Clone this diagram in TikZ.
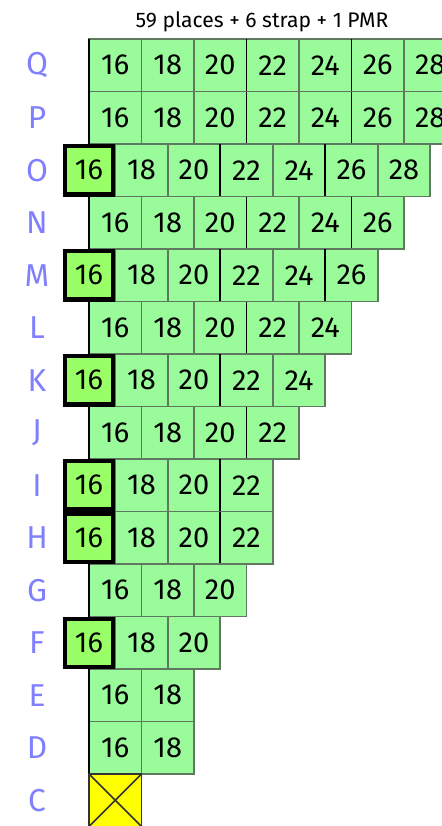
\documentclass[tikz,border=0pt]{standalone}
\usepackage{fontspec}
\setmainfont{Fira Sans}
\usetikzlibrary{positioning}
\definecolor{placeC}{RGB}{153,251,153}
\definecolor{strapC}{RGB}{153,255,102}
\definecolor{pmrC}  {RGB}{255,255,  0}
\definecolor{rowC}  {RGB}{128,128,255}
\definecolor{lineC} {RGB}{ 95,120, 95}

\tikzset{
  cell/.style={draw=lineC, fill=placeC, line width=0.6pt, inner sep=0pt,
    outer sep=0pt, minimum size=0.7cm, font=\fontsize{11}{11}\selectfont},
  strapcell/.style={cell, draw=black, fill=strapC, line width=1.6pt,
    minimum size=0.7cm-1.6pt},
  pmrcell/.style={cell, draw=black!80, fill=pmrC},
  rowlabel/.style={text=rowC, font=\fontsize{12}{12}\selectfont},
  groupline/.style={black, line width=0.6pt}
}

\begin{document}
\begin{tikzpicture}[x=0.7cm, y=-0.7cm]
\useasboundingbox (0,0) rectangle (8.4,15.733);

% ============================================================
% Title
% ============================================================
\node[font=\fontsize{8}{8}\selectfont] (title) at (4.99, 0.42)
  {59 places + 6 strap + 1 PMR};

% ============================================================
% Rows Q..D: label / number of cells / strap in first cell
% ============================================================
\foreach \lbl/\n/\s [count=\i from 0] in
  {Q/7/0, P/7/0, O/7/1, N/6/0, M/6/1, L/5/0, K/5/1, J/4/0,
   I/4/1, H/4/1, G/3/0, F/3/1, E/2/0, D/2/0}{
  \node[rowlabel] (lbl\lbl) at (0.705, 1.243+\i) {\lbl};
  \pgfmathtruncatemacro\first{1+\s}
  \foreach \k in {\first,...,\n}{
    \pgfmathtruncatemacro\num{14+2*\k}
    \node[cell] (c\lbl\num) at (2.195+\k-1-0.5*\s, 1.243+\i) {\num};
  }
  % black group separators (before 22 and 26)
  \ifnum\n>3
    \draw[groupline] (c\lbl22.north west) -- (c\lbl22.south west);
  \fi
  \ifnum\n>5
    \draw[groupline] (c\lbl26.north west) -- (c\lbl26.south west);
  \fi
}

% left edge of the plain rows
\foreach \lbl in {Q, P, N, L, J, G, E, D}{
  \draw[groupline] (c\lbl16.north west) -- (c\lbl16.south west);
}

% Strap places (shifted half a cell to the left)
\foreach \lbl/\i in {O/2, M/4, K/6, I/8, H/9, F/11}{
  \node[strapcell] (c\lbl16) at (1.695, 1.243+\i) {16};
}

% ============================================================
% Row C: PMR place
% ============================================================
\node[rowlabel] (lblC) at (0.705, 15.243) {C};
\node[pmrcell] (pmr) at (2.195, 15.243) {};
\draw[black!80, line width=0.6pt] (pmr.north west) -- (pmr.south east);
\draw[black!80, line width=0.6pt] (pmr.south west) -- (pmr.north east);

\end{tikzpicture}
\end{document}
